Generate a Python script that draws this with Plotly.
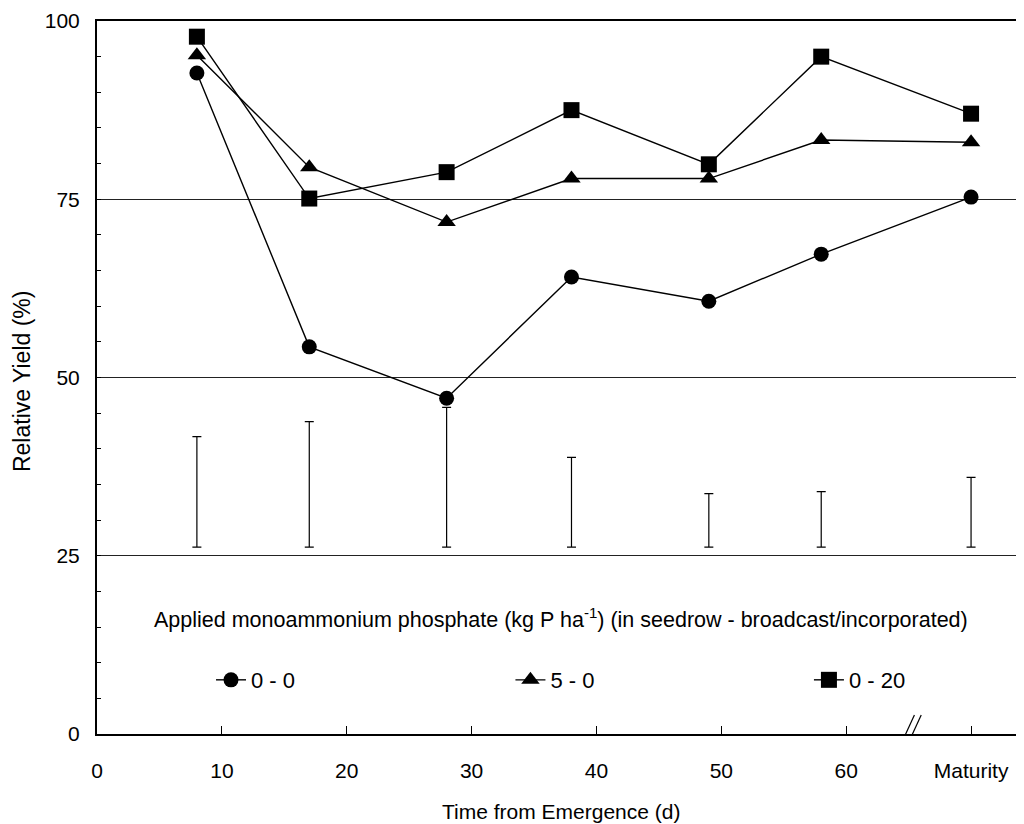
import plotly.graph_objects as go

# ---- data ----
days = [8, 17, 28, 38, 49, 58, 70]          # 70 = "Maturity"
yield_0_0 = [92.7, 54.3, 47.1, 64.1, 60.7, 67.3, 75.3]
yield_5_0 = [95.2, 79.5, 71.8, 77.9, 77.9, 83.3, 83.0]
yield_0_20 = [97.8, 75.1, 78.8, 87.5, 79.9, 95.0, 87.0]
lsd_low = [26.2, 26.2, 26.2, 26.2, 26.2, 26.2, 26.2]
lsd_high = [41.7, 43.8, 45.8, 38.8, 33.7, 34.0, 36.0]

x_tickvals = [0, 10, 20, 30, 40, 50, 60, 70]
x_ticktext = ["0", "10", "20", "30", "40", "50", "60", "Maturity"]
y_tickvals = [0, 25, 50, 75, 100]
series_names = ["0 - 0", "5 - 0", "0 - 20"]

FONT = "Liberation Sans, Arial, sans-serif"

fig = go.Figure()

# LSD bars
lsd_mid = [(a + b) / 2 for a, b in zip(lsd_low, lsd_high)]
lsd_half = [(b - a) / 2 for a, b in zip(lsd_low, lsd_high)]
fig.add_trace(go.Scatter(
    x=days, y=lsd_mid, mode="markers",
    marker=dict(opacity=0, size=1, color="black"),
    error_y=dict(type="data", array=lsd_half, symmetric=True,
                 color="black", thickness=1.2, width=4.5),
    showlegend=False, hoverinfo="skip"))

specs = [
    (yield_0_0, "circle", 15, "legend"),
    (yield_5_0, "triangle-up", 16, "legend2"),
    (yield_0_20, "square", 16, "legend3"),
]
for (vals, sym, size, lg), name in zip(specs, series_names):
    fig.add_trace(go.Scatter(
        x=days, y=vals, mode="lines+markers", name=name,
        line=dict(color="black", width=1.4),
        marker=dict(symbol=sym, size=size, color="black"),
        legend=lg))

# axis break marks
for dx in (-3.4, 3.4):
    fig.add_shape(type="line", xref="x", yref="y",
                  xsizemode="pixel", ysizemode="pixel",
                  xanchor=65, yanchor=0,
                  x0=dx - 9.2, y0=-21, x1=dx + 9.2, y1=19,
                  line=dict(color="black", width=1.2))

legend_common = dict(orientation="h", yanchor="middle", xanchor="left",
                     y=0.0757, bgcolor="rgba(0,0,0,0)",
                     font=dict(family=FONT, size=22, color="black"))

fig.update_layout(
    width=1016, height=816,
    margin=dict(l=89, r=0, t=13, b=90),
    plot_bgcolor="white", paper_bgcolor="white",
    font=dict(family=FONT, size=21, color="black"),
    legend=dict(x=0.123, **legend_common),
    legend2=dict(x=0.446, **legend_common),
    legend3=dict(x=0.768, **legend_common),
    xaxis=dict(range=[0, 74.24], tickvals=x_tickvals, ticktext=x_ticktext,
               ticks="inside", ticklen=8, tickwidth=1, tickcolor="black",
               showline=True, linecolor="black", linewidth=2, mirror=True,
               showgrid=False, zeroline=False, ticklabelstandoff=17,
               tickfont=dict(family=FONT, size=21, color="black")),
    yaxis=dict(range=[0, 100], tickvals=y_tickvals,
               ticks="inside", ticklen=4, tickwidth=1, tickcolor="black",
               minor=dict(dtick=5, ticks="inside", ticklen=4, tickcolor="black",
                          showgrid=False),
               showline=True, linecolor="black", linewidth=2,
               showgrid=True, gridcolor="#222", gridwidth=1,
               zeroline=False, ticklabelstandoff=11,
               tickfont=dict(family=FONT, size=21, color="black")),
    annotations=[
        dict(text="Relative Yield (%)", textangle=-90, xref="paper", yref="paper",
             x=0, y=0.495, xanchor="center", yanchor="middle", xshift=-75,
             showarrow=False, font=dict(family=FONT, size=23, color="black")),
        dict(text="Time from Emergence (d)", xref="paper", yref="paper",
             x=0.5, y=0, xanchor="center", yanchor="middle", yshift=-77,
             showarrow=False, font=dict(family=FONT, size=21, color="black")),
        dict(text="Applied monoammonium phosphate (kg P ha<sup>-1</sup>) (in seedrow - broadcast/incorporated)",
             xref="paper", yref="paper", x=0.5, y=0.162,
             xanchor="center", yanchor="middle",
             showarrow=False, font=dict(family=FONT, size=21.5, color="black")),
    ],
)

fig.write_html("out.html")
